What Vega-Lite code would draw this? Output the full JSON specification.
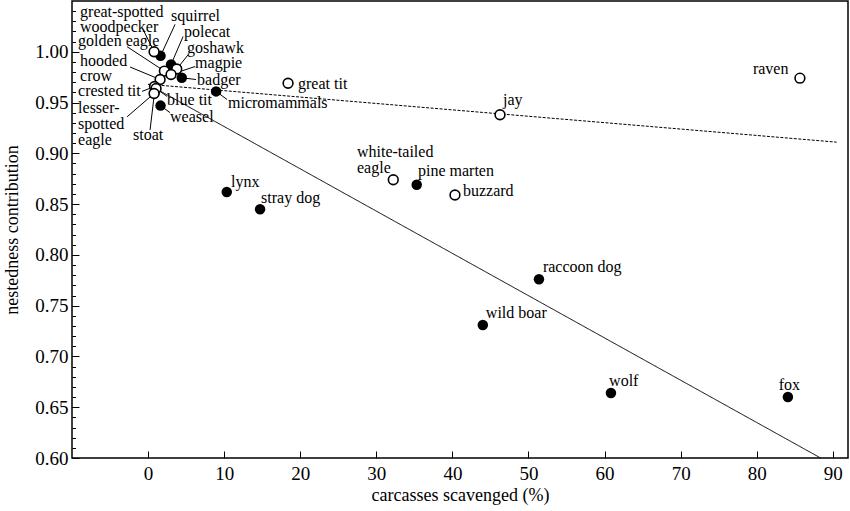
{
  "$schema": "https://vega.github.io/schema/vega-lite/v6.json",
  "width": 776,
  "height": 457,
  "autosize": {"type": "none"},
  "padding": {"left": 72, "top": 1, "right": 2, "bottom": 53},
  "background": "white",
  "datasets": {
    "points": [
      {"species": "great-spotted woodpecker", "x": 0.79, "y": 1.0, "group": "open"},
      {"species": "squirrel", "x": 1.64, "y": 0.996, "group": "filled"},
      {"species": "polecat", "x": 3.02, "y": 0.9875, "group": "filled"},
      {"species": "goshawk", "x": 3.77, "y": 0.983, "group": "open"},
      {"species": "golden eagle", "x": 2.14, "y": 0.981, "group": "open"},
      {"species": "magpie", "x": 3.02, "y": 0.9776, "group": "open"},
      {"species": "badger", "x": 4.43, "y": 0.9744, "group": "filled"},
      {"species": "hooded crow", "x": 1.58, "y": 0.9727, "group": "open"},
      {"species": "crested tit", "x": 0.85, "y": 0.9658, "group": "open"},
      {"species": "blue tit", "x": 1.05, "y": 0.9638, "group": "open"},
      {"species": "stoat", "x": 0.85, "y": 0.96, "group": "filled"},
      {"species": "lesser-spotted eagle", "x": 0.79, "y": 0.9589, "group": "open"},
      {"species": "weasel", "x": 1.64, "y": 0.947, "group": "filled"},
      {"species": "micromammals", "x": 8.94, "y": 0.961, "group": "filled"},
      {"species": "great tit", "x": 18.4, "y": 0.969, "group": "open"},
      {"species": "jay", "x": 46.26, "y": 0.938, "group": "open"},
      {"species": "raven", "x": 85.68, "y": 0.974, "group": "open"},
      {"species": "white-tailed eagle", "x": 32.23, "y": 0.874, "group": "open"},
      {"species": "pine marten", "x": 35.31, "y": 0.869, "group": "filled"},
      {"species": "buzzard", "x": 40.34, "y": 0.859, "group": "open"},
      {"species": "lynx", "x": 10.34, "y": 0.862, "group": "filled"},
      {"species": "stray dog", "x": 14.72, "y": 0.845, "group": "filled"},
      {"species": "raccoon dog", "x": 51.38, "y": 0.776, "group": "filled"},
      {"species": "wild boar", "x": 44.0, "y": 0.731, "group": "filled"},
      {"species": "wolf", "x": 60.84, "y": 0.664, "group": "filled"},
      {"species": "fox", "x": 84.1, "y": 0.66, "group": "filled"}
    ],
    "labels": [
      {"text": "great-spotted", "x": -8.94, "y": 1.0392},
      {"text": "woodpecker", "x": -8.94, "y": 1.0245},
      {"text": "golden eagle", "x": -9.2, "y": 1.0105},
      {"text": "hooded", "x": -8.94, "y": 0.9914},
      {"text": "crow", "x": -8.94, "y": 0.9766},
      {"text": "crested tit", "x": -9.2, "y": 0.9618},
      {"text": "lesser-", "x": -9.2, "y": 0.945},
      {"text": "spotted", "x": -9.2, "y": 0.9292},
      {"text": "eagle", "x": -9.2, "y": 0.9135},
      {"text": "stoat", "x": -1.97, "y": 0.9184},
      {"text": "squirrel", "x": 3.02, "y": 1.0348},
      {"text": "polecat", "x": 4.73, "y": 1.019},
      {"text": "goshawk", "x": 5.12, "y": 1.0042},
      {"text": "magpie", "x": 6.18, "y": 0.9894},
      {"text": "badger", "x": 6.44, "y": 0.9727},
      {"text": "blue tit", "x": 2.5, "y": 0.953},
      {"text": "weasel", "x": 2.89, "y": 0.936},
      {"text": "micromammals", "x": 10.51, "y": 0.95},
      {"text": "great tit", "x": 19.71, "y": 0.9687},
      {"text": "jay", "x": 46.65, "y": 0.953},
      {"text": "raven", "x": 79.5, "y": 0.9835},
      {"text": "white-tailed", "x": 27.46, "y": 0.9017},
      {"text": "eagle", "x": 27.46, "y": 0.886},
      {"text": "pine marten", "x": 35.48, "y": 0.883},
      {"text": "buzzard", "x": 41.39, "y": 0.8632},
      {"text": "lynx", "x": 10.9, "y": 0.872},
      {"text": "stray dog", "x": 14.85, "y": 0.8563},
      {"text": "raccoon dog", "x": 51.9, "y": 0.788},
      {"text": "wild boar", "x": 44.4, "y": 0.743},
      {"text": "wolf", "x": 60.6, "y": 0.676},
      {"text": "fox", "x": 82.9, "y": 0.672}
    ],
    "leaders": [
      {"species": "great-spotted woodpecker", "x": -0.66, "y": 1.022, "x2": 0.79, "y2": 1.0},
      {"species": "squirrel", "x": 3.55, "y": 1.027, "x2": 1.64, "y2": 0.996},
      {"species": "polecat", "x": 4.6, "y": 1.015, "x2": 3.02, "y2": 0.9875},
      {"species": "goshawk", "x": 5.26, "y": 0.997, "x2": 3.77, "y2": 0.983},
      {"species": "magpie", "x": 6.18, "y": 0.9855, "x2": 3.02, "y2": 0.9776},
      {"species": "badger", "x": 6.3, "y": 0.9727, "x2": 4.43, "y2": 0.9744},
      {"species": "golden eagle", "x": -2.76, "y": 1.005, "x2": 2.14, "y2": 0.981},
      {"species": "hooded crow", "x": -2.37, "y": 0.985, "x2": 1.58, "y2": 0.9727},
      {"species": "crested tit", "x": -0.79, "y": 0.961, "x2": 0.85, "y2": 0.9658},
      {"species": "lesser-spotted eagle", "x": -2.76, "y": 0.936, "x2": 0.79, "y2": 0.9589},
      {"species": "stoat", "x": 0.26, "y": 0.923, "x2": 0.85, "y2": 0.96},
      {"species": "blue tit", "x": 2.5, "y": 0.956, "x2": 1.05, "y2": 0.9638},
      {"species": "weasel", "x": 2.89, "y": 0.94, "x2": 1.64, "y2": 0.947},
      {"species": "micromammals", "x": 10.38, "y": 0.953, "x2": 8.94, "y2": 0.961}
    ],
    "fits": [
      {"kind": "solid", "x": 0, "y": 0.968, "x2": 88.4, "y2": 0.6},
      {"kind": "dashed", "x": 0, "y": 0.968, "x2": 90.5, "y2": 0.911}
    ]
  },
  "layer": [
    {
      "data": {"name": "fits"},
      "mark": {"type": "rule", "color": "black", "strokeWidth": 1},
      "encoding": {
        "x": {"field": "x", "type": "quantitative", "scale": {"domain": [-10, 92], "nice": false, "zero": false},
          "axis": {"values": [0, 10, 20, 30, 40, 50, 60, 70, 80, 90], "title": "carcasses scavenged (%)", "tickSize": -7, "labelPadding": 13, "titlePadding": 3, "orient": "bottom"}},
        "y": {"field": "y", "type": "quantitative", "scale": {"domain": [0.6, 1.05], "nice": false, "zero": false},
          "axis": {"values": [0.6, 0.65, 0.7, 0.75, 0.8, 0.85, 0.9, 0.95, 1.0], "format": ".2f", "title": "nestedness contribution", "tickSize": -7, "labelPadding": 11, "titlePadding": 13, "orient": "left"}},
        "x2": {"field": "x2"},
        "y2": {"field": "y2"},
        "strokeDash": {"field": "kind", "type": "nominal", "scale": {"domain": ["solid", "dashed"], "range": [[1, 0], [3, 1.5]]}, "legend": null}
      }
    },
    {
      "data": {"name": "leaders"},
      "mark": {"type": "rule", "color": "black", "strokeWidth": 1},
      "encoding": {
        "x": {"field": "x", "type": "quantitative", "axis": null},
        "y": {"field": "y", "type": "quantitative",
          "axis": {"values": [0.6, 0.61, 0.62, 0.63, 0.64, 0.65, 0.66, 0.67, 0.68, 0.69, 0.7, 0.71, 0.72, 0.73, 0.74, 0.75, 0.76, 0.77, 0.78, 0.79, 0.8, 0.81, 0.82, 0.83, 0.84, 0.85, 0.86, 0.87, 0.88, 0.89, 0.9, 0.91, 0.92, 0.93, 0.94, 0.95, 0.96, 0.97, 0.98, 0.99, 1.0, 1.01, 1.02, 1.03, 1.04],
            "labels": false, "title": null, "tickSize": -3.5, "orient": "left"}},
        "x2": {"field": "x2"},
        "y2": {"field": "y2"}
      }
    },
    {
      "data": {"name": "points"},
      "transform": [{"filter": "datum.group == 'filled'"}],
      "mark": {"type": "point", "shape": "circle", "filled": true, "color": "black", "size": 110, "opacity": 1},
      "encoding": {
        "x": {"field": "x", "type": "quantitative", "axis": null},
        "y": {"field": "y", "type": "quantitative", "axis": null}
      }
    },
    {
      "data": {"name": "points"},
      "transform": [{"filter": "datum.group == 'open'"}],
      "mark": {"type": "point", "shape": "circle", "filled": false, "fill": "white", "fillOpacity": 1, "stroke": "black", "strokeWidth": 1.6, "size": 95, "opacity": 1},
      "encoding": {
        "x": {"field": "x", "type": "quantitative", "axis": null},
        "y": {"field": "y", "type": "quantitative", "axis": null}
      }
    },
    {
      "data": {"name": "labels"},
      "mark": {"type": "text", "align": "left", "baseline": "middle", "font": "Liberation Serif", "fontSize": 16, "color": "black"},
      "encoding": {
        "x": {"field": "x", "type": "quantitative", "axis": null},
        "y": {"field": "y", "type": "quantitative", "axis": null},
        "text": {"field": "text"}
      }
    }
  ],
  "resolve": {"axis": {"x": "independent", "y": "independent"}},
  "config": {
    "view": {"stroke": "black", "strokeWidth": 1.5},
    "axis": {
      "grid": false,
      "domain": false,
      "tickColor": "black",
      "tickWidth": 1,
      "labelFont": "Liberation Serif",
      "labelFontSize": 19,
      "labelColor": "black",
      "titleFont": "Liberation Serif",
      "titleFontSize": 18,
      "titleFontWeight": "normal",
      "titleColor": "black"
    }
  }
}
